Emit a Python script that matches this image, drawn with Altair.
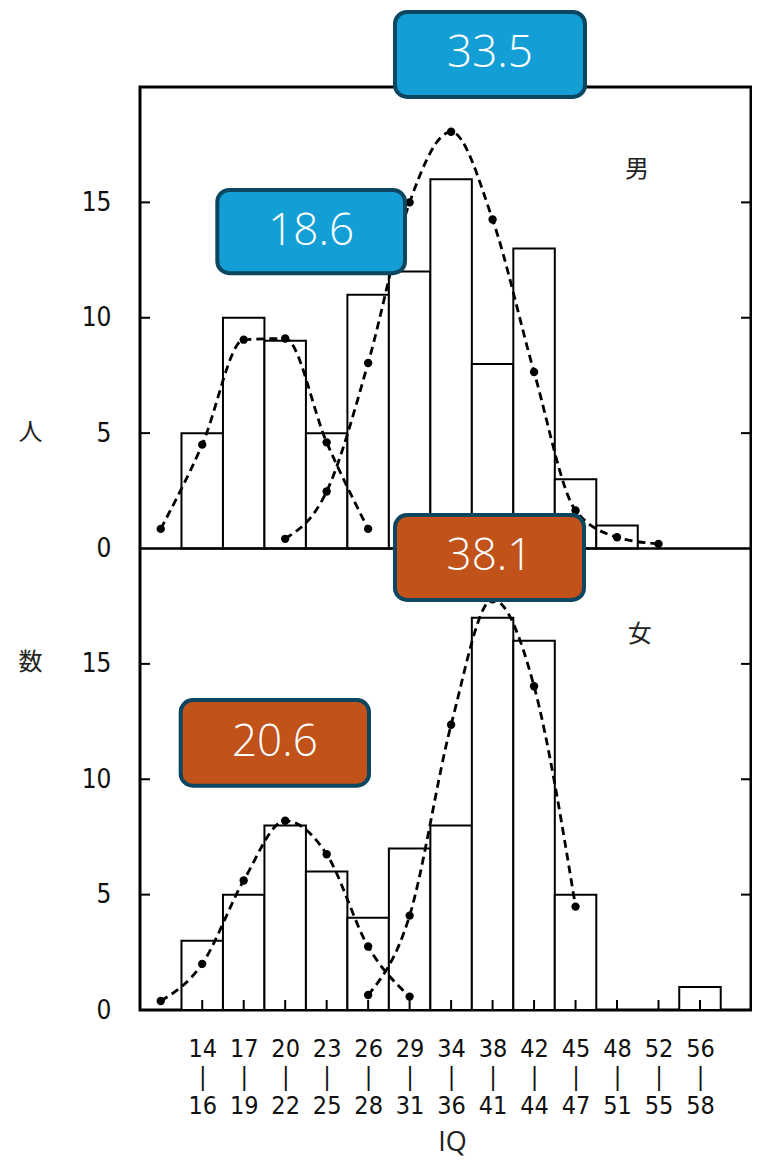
import altair as alt
import pandas as pd

# ---- data ----
bins_low = ["14", "17", "20", "23", "26", "29", "34", "38", "42", "45", "48", "52", "56"]
bins_high = ["16", "19", "22", "25", "28", "31", "36", "41", "44", "47", "51", "55", "58"]
male_counts = [5, 10, 9, 5, 11, 12, 16, 8, 13, 3, 1, 0, 0]
female_counts = [3, 5, 8, 6, 4, 7, 8, 17, 16, 5, 0, 0, 1]

# fitted curves: class index (-1 = class below 14-16) and frequency
male_low_bins = [-1, 0, 1, 2, 3, 4]
male_low_vals = [0.85, 4.5, 9.05, 9.1, 4.6, 0.85]
male_high_bins = [2, 3, 4, 5, 6, 7, 8, 9, 10, 11]
male_high_vals = [0.42, 2.47, 8.04, 15.0, 18.06, 14.26, 7.65, 1.65, 0.49, 0.2]
female_low_bins = [-1, 0, 1, 2, 3, 4, 5]
female_low_vals = [0.39, 2.0, 5.61, 8.2, 6.75, 2.75, 0.58]
female_high_bins = [4, 5, 6, 7, 8, 9]
female_high_vals = [0.65, 4.09, 12.36, 17.8, 14.03, 4.48]

panels = ["男", "女"]
y_ticks = [0, 5, 10, 15]

# mean labels (annotation boxes)
mean_labels = ["33.5", "18.6", "38.1", "20.6"]
mean_panel = ["男", "男", "女", "女"]
box_x1 = [5.147, 0.864, 5.147, -0.019]
box_x2 = [9.728, 5.389, 9.704, 4.521]
box_y1 = [23.25, 15.54, 21.45, 13.43]
box_y2 = [19.57, 11.93, 17.77, 9.72]

# ---- tables ----
bar_rows = []
for p, counts in zip(panels, [male_counts, female_counts]):
    for i, c in enumerate(counts):
        bar_rows.append({"panel": p, "bin": i, "count": c})
bars_df = pd.DataFrame(bar_rows)

curve_rows = []
for p, name, bins, vals in [
    ("男", "m_low", male_low_bins, male_low_vals),
    ("男", "m_high", male_high_bins, male_high_vals),
    ("女", "f_low", female_low_bins, female_low_vals),
    ("女", "f_high", female_high_bins, female_high_vals),
]:
    for b, v in zip(bins, vals):
        curve_rows.append({"panel": p, "curve": name, "bin": b, "value": v})
curve_df = pd.DataFrame(curve_rows)

box_df = pd.DataFrame({"label": mean_labels, "panel": mean_panel,
                       "x1": box_x1, "x2": box_x2, "y1": box_y1, "y2": box_y2})
tick_df = pd.DataFrame([{"panel": p, "val": v} for p in panels for v in y_ticks if v > 0])
center_df = pd.DataFrame({"bin": list(range(len(bins_low)))})
panel_df = pd.DataFrame({"panel": panels, "x": [10.98, 11.05], "y": [16.4, 16.25]})

W, H = 611, 923
OFF = "datum.panel == '男' ? 20 : 0"
x_scale = alt.Scale(domain=[-1, 13.73], nice=False, zero=False)
y_scale = alt.Scale(domain=[0, 40], nice=False, zero=False)

label_arr = "[" + ",".join("['%s','|','%s']" % (a, b) for a, b in zip(bins_low, bins_high)) + "]"
AXFONT = "Liberation Sans Narrow, DejaVu Sans Condensed, sans-serif"

x_axis = alt.Axis(values=[i + 0.5 for i in range(len(bins_low))],
                  labelExpr=label_arr + "[floor(datum.value)]",
                  labelFont=AXFONT, labelFontSize=25, labelLineHeight=28.5,
                  labelPadding=26, labelColor="#111", labelBaseline="top",
                  ticks=False, tickSize=0, domain=False, grid=False,
                  title="IQ", titleFont="Open Sans", titleFontWeight="normal",
                  titleFontSize=27, titleColor="#222", titleY=132, titleX=312,
                  titleBaseline="middle", labelFlush=False)
y_axis = alt.Axis(values=[0, 5, 10, 15, 20, 25, 30, 35],
                  labelExpr="datum.value % 20",
                  labelFont=AXFONT, labelFontSize=26, labelPadding=29,
                  labelColor="#111", labelBaseline="middle", labelAlign="right",
                  ticks=False, tickSize=0, domain=False, grid=False,
                  title=["人", "数"], titleAngle=0, titleAlign="center",
                  titleBaseline="middle", titleX=-110, titleY=345,
                  titleLineHeight=230, titleFont="Noto Sans CJK JP",
                  titleFontSize=24, titleFontWeight="normal", titleColor="#222",
                  labelFlush=False)

bars = alt.Chart(bars_df).transform_filter("datum.count > 0").transform_calculate(
    off=OFF, bin2="datum.bin + 1", top="datum.count + (" + OFF + ")"
).mark_rect(fill="white", stroke="black", strokeWidth=2).encode(
    x=alt.X("bin:Q", scale=x_scale, axis=x_axis),
    x2="bin2:Q",
    y=alt.Y("off:Q", scale=y_scale, axis=y_axis),
    y2="top:Q",
)

curve_base = alt.Chart(curve_df).transform_calculate(
    xc="datum.bin + 0.5", yv="datum.value + (" + OFF + ")"
)
lines = curve_base.mark_line(color="black", strokeWidth=2.8, strokeDash=[8, 5],
                             interpolate="monotone").encode(
    x=alt.X("xc:Q", scale=x_scale), y=alt.Y("yv:Q", scale=y_scale),
    detail="curve:N", order="bin:Q")
dots = curve_base.mark_circle(color="black", size=70, opacity=1).encode(
    x=alt.X("xc:Q", scale=x_scale), y=alt.Y("yv:Q", scale=y_scale))

tick_base = alt.Chart(tick_df).transform_calculate(yv="datum.val + (" + OFF + ")")
left_ticks = tick_base.mark_rule(color="black", strokeWidth=2).encode(
    y=alt.Y("yv:Q", scale=y_scale), x=alt.value(0), x2=alt.value(10))
right_ticks = tick_base.mark_rule(color="black", strokeWidth=2).encode(
    y=alt.Y("yv:Q", scale=y_scale), x=alt.value(W - 10), x2=alt.value(W))

center_ticks = alt.Chart(center_df).transform_calculate(xc="datum.bin + 0.5").mark_rule(
    color="black", strokeWidth=2).encode(
    x=alt.X("xc:Q", scale=x_scale), y=alt.value(H), y2=alt.value(H - 10))

divider = alt.Chart(pd.DataFrame({"v": [20]})).mark_rule(color="black", strokeWidth=2.5).encode(
    y=alt.Y("v:Q", scale=y_scale))

panel_text = alt.Chart(panel_df).transform_calculate(yv="datum.y + (" + OFF + ")").mark_text(
    font="Noto Sans CJK JP", fontSize=24, color="#222").encode(
    x=alt.X("x:Q", scale=x_scale), y=alt.Y("yv:Q", scale=y_scale), text="panel:N")

box_base = alt.Chart(box_df).transform_calculate(
    off=OFF,
    ya="datum.y1 + (" + OFF + ")", yb="datum.y2 + (" + OFF + ")",
    xm="(datum.x1 + datum.x2) / 2", ym="(datum.y1 + datum.y2) / 2 + (" + OFF + ")")
boxes = box_base.mark_rect(cornerRadius=12, stroke="#0c4660", strokeWidth=4).encode(
    x=alt.X("x1:Q", scale=x_scale), x2="x2:Q",
    y=alt.Y("ya:Q", scale=y_scale), y2="yb:Q",
    fill=alt.Fill("panel:N", scale=alt.Scale(domain=panels, range=["#139fd6", "#c0521a"]),
                  legend=None))
box_text = box_base.mark_text(font="Open Sans", fontSize=44, fontWeight=300,
                              color="white", baseline="middle").encode(
    x=alt.X("xm:Q", scale=x_scale), y=alt.Y("ym:Q", scale=y_scale), text="label:N")

chart = alt.layer(
    bars, lines, dots, left_ticks, right_ticks, center_ticks, divider,
    panel_text, boxes, box_text
).properties(
    width=W, height=H,
    autosize=alt.AutoSizeParams(type="none"),
    padding={"left": 132, "top": 79, "right": 1, "bottom": 148},
    background="white",
).configure_view(stroke="black", strokeWidth=3)

chart.save("out.html", embed_options={"renderer": "svg", "actions": False})
